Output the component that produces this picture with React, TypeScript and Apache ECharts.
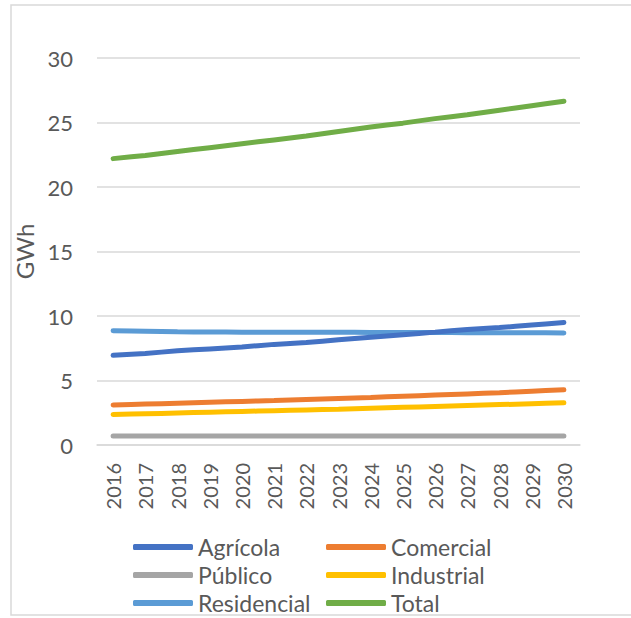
import React, { useEffect, useRef } from "react";
import * as echarts from "echarts";

const years = ["2016","2017","2018","2019","2020","2021","2022","2023","2024","2025","2026","2027","2028","2029","2030"];
const agricola = [6.95, 7.1, 7.3, 7.45, 7.6, 7.8, 7.95, 8.15, 8.35, 8.55, 8.75, 8.95, 9.1, 9.3, 9.5];
const comercial = [3.1, 3.17, 3.24, 3.31, 3.38, 3.45, 3.53, 3.61, 3.69, 3.78, 3.87, 3.96, 4.05, 4.17, 4.28];
const publico = [0.7, 0.7, 0.7, 0.7, 0.7, 0.7, 0.7, 0.7, 0.7, 0.7, 0.7, 0.7, 0.7, 0.7, 0.7];
const industrial = [2.36, 2.42, 2.48, 2.54, 2.6, 2.66, 2.72, 2.78, 2.85, 2.92, 2.99, 3.06, 3.13, 3.2, 3.27];
const residencial = [8.85, 8.82, 8.78, 8.76, 8.75, 8.75, 8.74, 8.74, 8.73, 8.72, 8.72, 8.71, 8.7, 8.7, 8.68];
const total = [22.2, 22.45, 22.75, 23.05, 23.35, 23.65, 23.95, 24.3, 24.65, 24.95, 25.3, 25.6, 25.95, 26.3, 26.65];

const seriesDefs = [
  { name: "Agrícola", data: agricola, color: "#4472C4" },
  { name: "Comercial", data: comercial, color: "#ED7D31" },
  { name: "Público", data: publico, color: "#A5A5A5" },
  { name: "Industrial", data: industrial, color: "#FFC000" },
  { name: "Residencial", data: residencial, color: "#5B9BD5" },
  { name: "Total", data: total, color: "#70AD47" },
];

const FONT = "Lato";
const TXT = "#595959";

export default function App() {
  const ref = useRef<HTMLDivElement>(null);
  useEffect(() => {
    if (!ref.current) return;
    const chart = echarts.init(ref.current, null, { renderer: "svg" });
    const legendBase = {
      orient: "horizontal",
      padding: 0,
      itemWidth: 60,
      itemHeight: 6,
      icon: "roundRect",
      textStyle: { color: TXT, fontFamily: FONT, fontSize: 23, lineHeight: 24 },
      selectedMode: false,
    };
    const legends = seriesDefs.map((s, i) => ({
      ...legendBase,
      left: i % 2 === 0 ? 133 : 326,
      top: 535 + Math.floor(i / 2) * 28,
      data: [s.name],
    }));
    chart.setOption({
      animation: false,
      backgroundColor: "#ffffff",
      grid: { left: 97, right: 51, top: 58, bottom: 173, containLabel: false },
      xAxis: {
        type: "category",
        data: years,
        boundaryGap: true,
        axisLine: { show: true, lineStyle: { color: "#d9d9d9", width: 1.5 } },
        axisTick: { show: false },
        axisLabel: { rotate: 90, color: TXT, fontFamily: FONT, fontSize: 20, margin: 18, interval: 0 },
      },
      yAxis: {
        type: "value",
        min: 0,
        max: 30,
        interval: 5,
        name: "GWh",
        nameLocation: "middle",
        nameGap: 57,
        nameTextStyle: { color: TXT, fontFamily: FONT, fontSize: 24 },
        axisLine: { show: false },
        axisTick: { show: false },
        axisLabel: { color: TXT, fontFamily: FONT, fontSize: 22, margin: 24 },
        splitLine: { lineStyle: { color: "#d9d9d9", width: 1.5 } },
      },
      legend: legends,
      graphic: [
        {
          type: "rect",
          shape: { x: 11, y: 5, width: 640, height: 610 },
          style: { fill: "none", stroke: "#d9d9d9", lineWidth: 1.5 },
          silent: true,
        },
      ],
      series: seriesDefs.map((s) => ({
        name: s.name,
        type: "line",
        data: s.data,
        smooth: 0.3,
        showSymbol: false,
        symbol: "none",
        lineStyle: { color: s.color, width: 5, cap: "round" },
        itemStyle: { color: s.color },
        z: s.name === "Residencial" ? 1 : 2,
      })),
    });
    return () => chart.dispose();
  }, []);
  return <div ref={ref} style={{ position: "absolute", left: 0, top: 0, width: 631, height: 618 }} />;
}
